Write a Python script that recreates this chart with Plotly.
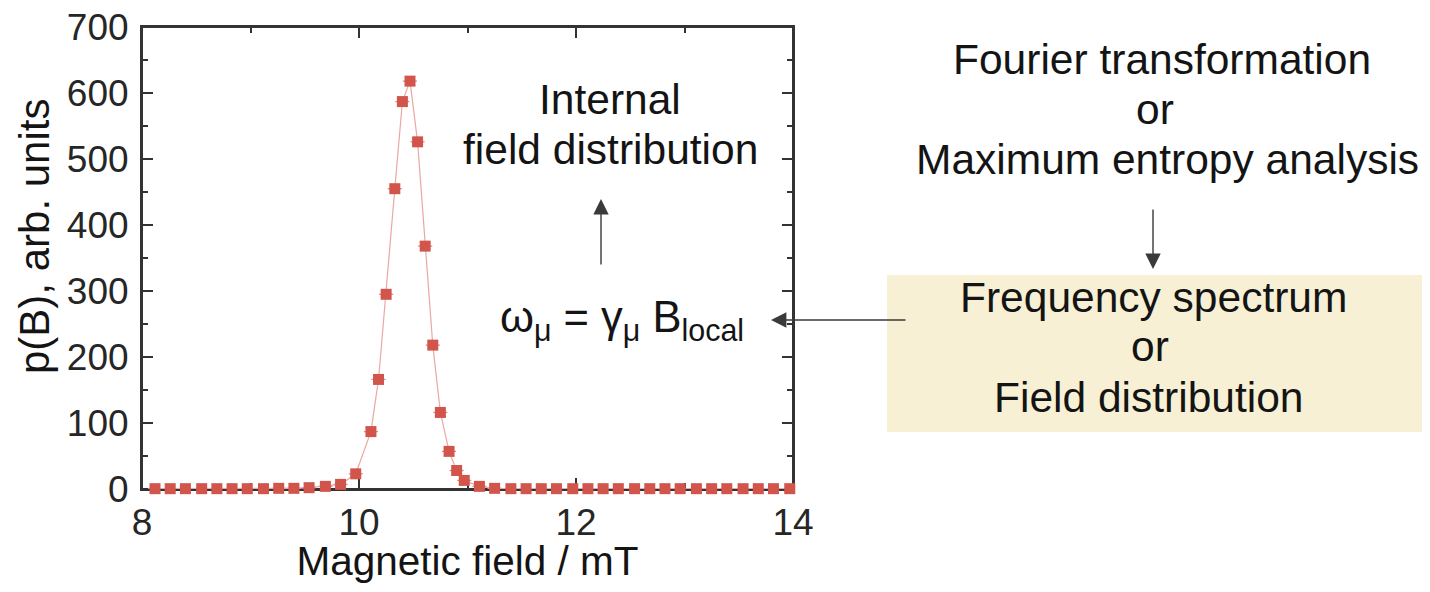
import plotly.graph_objects as go

# Data
field_mT = [8.12, 8.26, 8.40, 8.55, 8.69, 8.83, 8.97, 9.12, 9.26, 9.40, 9.54, 9.69, 9.83, 9.97,
            10.11, 10.18, 10.25, 10.33, 10.40, 10.47, 10.54, 10.61, 10.68, 10.75, 10.83, 10.90, 10.97,
            11.11, 11.25, 11.40, 11.54, 11.68, 11.82, 11.97, 12.11, 12.25, 12.39, 12.54, 12.68, 12.82,
            12.96, 13.11, 13.25, 13.39, 13.54, 13.68, 13.82, 13.97]
pB = [0.5, 0.5, 0.5, 0.5, 0.5, 0.5, 0.5, 0.5, 1, 1, 2, 4, 7, 23,
      87, 166, 295, 455, 587, 618, 526, 368, 218, 116, 57, 28, 13,
      4, 1, 0.5, 0.5, 0.5, 0.5, 0.5, 0.5, 0.5, 0.5, 0.5, 0.5, 0.5,
      0.5, 0.5, 0.5, 0.5, 0.5, 0.5, 0.5, 0.5]
field_err = [0.065] * len(field_mT)

x_ticks = [8, 10, 12, 14]
y_ticks = [0, 100, 200, 300, 400, 500, 600, 700]

FONT = "Liberation Sans, Arial, sans-serif"
RED = "#d2554c"
TXT = "#141414"
AX = "#333333"

fig = go.Figure()
fig.add_trace(go.Scatter(
    x=field_mT, y=pB, mode="lines+markers",
    line=dict(color="#eba7a3", width=1.2),
    marker=dict(symbol="square", size=11, color=RED, line=dict(width=0)),
    error_x=dict(type="data", array=field_err, visible=True, color="#e08a84", thickness=1.3, width=0),
    cliponaxis=False, showlegend=False,
))

axis_common = dict(
    showline=True, linecolor=AX, linewidth=2, mirror="ticks",
    ticks="inside", ticklen=11, tickwidth=2, tickcolor=AX,
    showgrid=False, zeroline=False, layer="below traces", automargin=False,
    ticklabeloverflow="allow",
    tickfont=dict(family=FONT, size=37, color="#262626"),
)

fig.update_xaxes(range=[8, 14], tickvals=x_ticks, ticktext=[str(v) for v in x_ticks],
                 minor=dict(ticks="inside", dtick=1, ticklen=6, tickwidth=2, tickcolor=AX),
                 title=dict(text="Magnetic field / mT", font=dict(family=FONT, size=40.5, color=TXT), standoff=12),
                 ticklabelstandoff=0,
                 **axis_common)
fig.update_yaxes(range=[0, 700], tickvals=y_ticks, ticktext=[str(v) for v in y_ticks],
                 minor=dict(ticks="inside", dtick=50, ticklen=6, tickwidth=2, tickcolor=AX),
                 ticklabelstandoff=4,
                 **axis_common)

# The page body adds an 8px margin, so the figure is laid out 8px up/left of screen coords
OFF = 8
W, H = 1430 - 2 * OFF, 592 - 2 * OFF
L, T = 142 - OFF, 27 - OFF
pw, ph = 651, 462
R, B = W - L - pw, H - T - ph

def px(xs):
    return (xs - OFF - L) / pw

def py(ys):
    return (T + ph - (ys - OFF)) / ph

# frame around the plotting area (makes sure the top edge is drawn)
fig.add_shape(type="rect", xref="paper", yref="paper", x0=0, x1=1, y0=0, y1=1,
              line=dict(color=AX, width=2), fillcolor="rgba(0,0,0,0)", layer="below")

# y-axis title (placed as a rotated annotation, as in the reference it sits above centre)
fig.add_annotation(xref="paper", yref="paper", xanchor="center", yanchor="middle",
                   x=px(34), y=py(237), text="p(B), arb. units", textangle=-90,
                   showarrow=False, font=dict(family=FONT, size=42, color=TXT))

txt_font = dict(family=FONT, size=42.5, color=TXT)

lines = [
    ("Internal", 610, 97),
    ("field distribution", 610, 147),
    ("Fourier transformation", 1162, 58),
    ("or", 1155, 108),
    ("Maximum entropy analysis", 1167, 158),
    ("Frequency spectrum", 1153, 295),
    ("or", 1150, 344),
    ("Field distribution", 1148, 395),
]
for t, xx, yy in lines:
    fig.add_annotation(xref="paper", yref="paper", xanchor="center", yanchor="middle",
                       x=px(xx), y=py(yy + 2), text=t, showarrow=False, font=txt_font)

fig.add_annotation(xref="paper", yref="paper", xanchor="center", yanchor="middle",
                   x=px(622), y=py(320), showarrow=False,
                   text="ω<sub>μ</sub> = γ<sub>μ</sub> B<sub>local</sub>",
                   font=dict(family=FONT, size=43.5, color=TXT))

arrows = [
    dict(x=px(601), y=py(199), ax=0, ay=67),
    dict(x=px(771), y=py(320), ax=136, ay=0),
    dict(x=px(1153), y=py(269), ax=0, ay=-61),
]
for a in arrows:
    fig.add_annotation(xref="paper", yref="paper", text="", showarrow=True,
                       arrowhead=2, arrowsize=2.2, arrowwidth=1.4, arrowcolor="#3a3a3a", **a)

fig.add_shape(type="rect", xref="paper", yref="paper",
              x0=px(887), x1=px(1427), y0=py(432), y1=py(275),
              fillcolor="#f7f0d4", line=dict(width=0), layer="below")

fig.update_layout(
    width=W, height=H,
    margin=dict(l=L, r=R, t=T, b=B, autoexpand=False),
    paper_bgcolor="white", plot_bgcolor="white",
    font=dict(family=FONT),
)

fig.write_html("out.html")
